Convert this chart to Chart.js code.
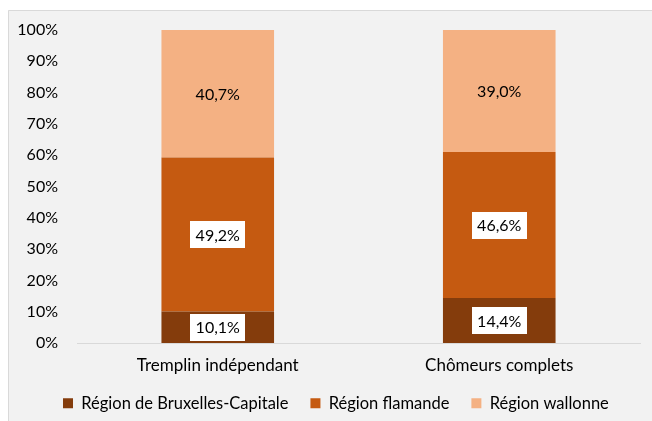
<!DOCTYPE html>
<html>
<head>
<meta charset="utf-8">
<script src="https://cdn.jsdelivr.net/npm/chart.js@4.4.1/dist/chart.umd.min.js"></script>
<style>
    html, body { margin: 0; padding: 0; background: #fff; }
    #wrap { position: relative; width: 652px; height: 421px; }
</style>
</head>
<body>
<div id="wrap"><canvas id="barChart" width="652" height="421"></canvas></div>
<script>
// data
var categories = ["Tremplin indépendant", "Chômeurs complets"];
var seriesNames = ["Région de Bruxelles-Capitale", "Région flamande", "Région wallonne"];
var bruxelles = [10.1, 14.4];
var flamande = [49.2, 46.6];
var wallonne = [40.7, 39.0];
var yTicks = [0, 10, 20, 30, 40, 50, 60, 70, 80, 90, 100];

var colors = ["#843C0C", "#C55A11", "#F4B183"];
var FONT = "Lato, 'Open Sans', sans-serif";

function fmt(v) {
    return v.toFixed(1).replace(".", ",") + "%";
}

//-------------
//- BACKGROUND -
//-------------
var bgPlugin = {
    id: "bg",
    beforeDraw: function (chart) {
        var ctx = chart.ctx;
        ctx.save();
        ctx.fillStyle = "#fff";
        ctx.fillRect(0, 0, chart.width, chart.height);
        ctx.fillStyle = "#F2F2F2";
        ctx.fillRect(8, 10, chart.width, chart.height);
        ctx.strokeStyle = "#D9D9D9";
        ctx.lineWidth = 1;
        ctx.beginPath();
        ctx.moveTo(8.5, chart.height);
        ctx.lineTo(8.5, 10.5);
        ctx.lineTo(chart.width, 10.5);
        ctx.stroke();
        ctx.restore();
    },
    afterLayout: function (chart) {
        // put legend where it sits in the original
        var lg = chart.legend;
        var w = lg.right - lg.left;
        lg.left = 41;
        lg.right = lg.left + w;
        var h = lg.bottom - lg.top;
        lg.top = 373;
        lg.bottom = lg.top + h;
    }
};

//---------------
//- DATA LABELS -
//---------------
var labelPlugin = {
    id: "barLabels",
    afterDatasetsDraw: function (chart) {
        var ctx = chart.ctx;
        ctx.save();
        ctx.font = "16px " + FONT;
        ctx.textAlign = "center";
        ctx.textBaseline = "middle";
        chart.data.datasets.forEach(function (ds, i) {
            var meta = chart.getDatasetMeta(i);
            meta.data.forEach(function (bar, j) {
                var x = bar.x;
                var y = (bar.y + bar.base) / 2;
                var txt = fmt(ds.data[j]);
                if (i < 2) {
                    ctx.fillStyle = "#fff";
                    ctx.fillRect(Math.round(x - 27.5), Math.round(y - 13.5), 55, 27);
                }
                ctx.fillStyle = "#000";
                ctx.fillText(txt, x, y + 1);
            });
        });
        ctx.restore();
    }
};

//-------------
//- BAR CHART -
//-------------
var datasets = [bruxelles, flamande, wallonne].map(function (d, i) {
    return {
        label: seriesNames[i],
        data: d,
        backgroundColor: colors[i],
        borderWidth: 0,
        barPercentage: 0.4,
        categoryPercentage: 1.0
    };
});

new Chart(document.getElementById("barChart"), {
    type: "bar",
    data: { labels: categories, datasets: datasets },
    plugins: [bgPlugin, labelPlugin],
    options: {
        responsive: false,
        animation: false,
        layout: { padding: { left: 0, right: 12, top: 30, bottom: -7 } },
        plugins: {
            tooltip: { enabled: false },
            legend: {
                position: "bottom",
                align: "start",
                labels: {
                    boxWidth: 10,
                    boxHeight: 10,
                    padding: 22,
                    color: "#000",
                    font: { family: FONT, size: 16.5 }
                }
            }
        },
        scales: {
            x: {
                stacked: true,
                grid: { display: false },
                border: { color: "#D9D9D9", width: 1 },
                ticks: { color: "#000", padding: 4, font: { family: FONT, size: 17 } }
            },
            y: {
                stacked: true,
                min: 0,
                max: 100,
                afterFit: function (scale) { scale.width = 77; },
                afterBuildTicks: function (scale) {
                    scale.ticks = yTicks.map(function (v) { return { value: v }; });
                },
                grid: { display: false },
                border: { display: false },
                ticks: {
                    color: "#000",
                    padding: 11,
                    font: { family: FONT, size: 16 },
                    callback: function (v) { return v + "%"; }
                }
            }
        }
    }
});
</script>
</body>
</html>
